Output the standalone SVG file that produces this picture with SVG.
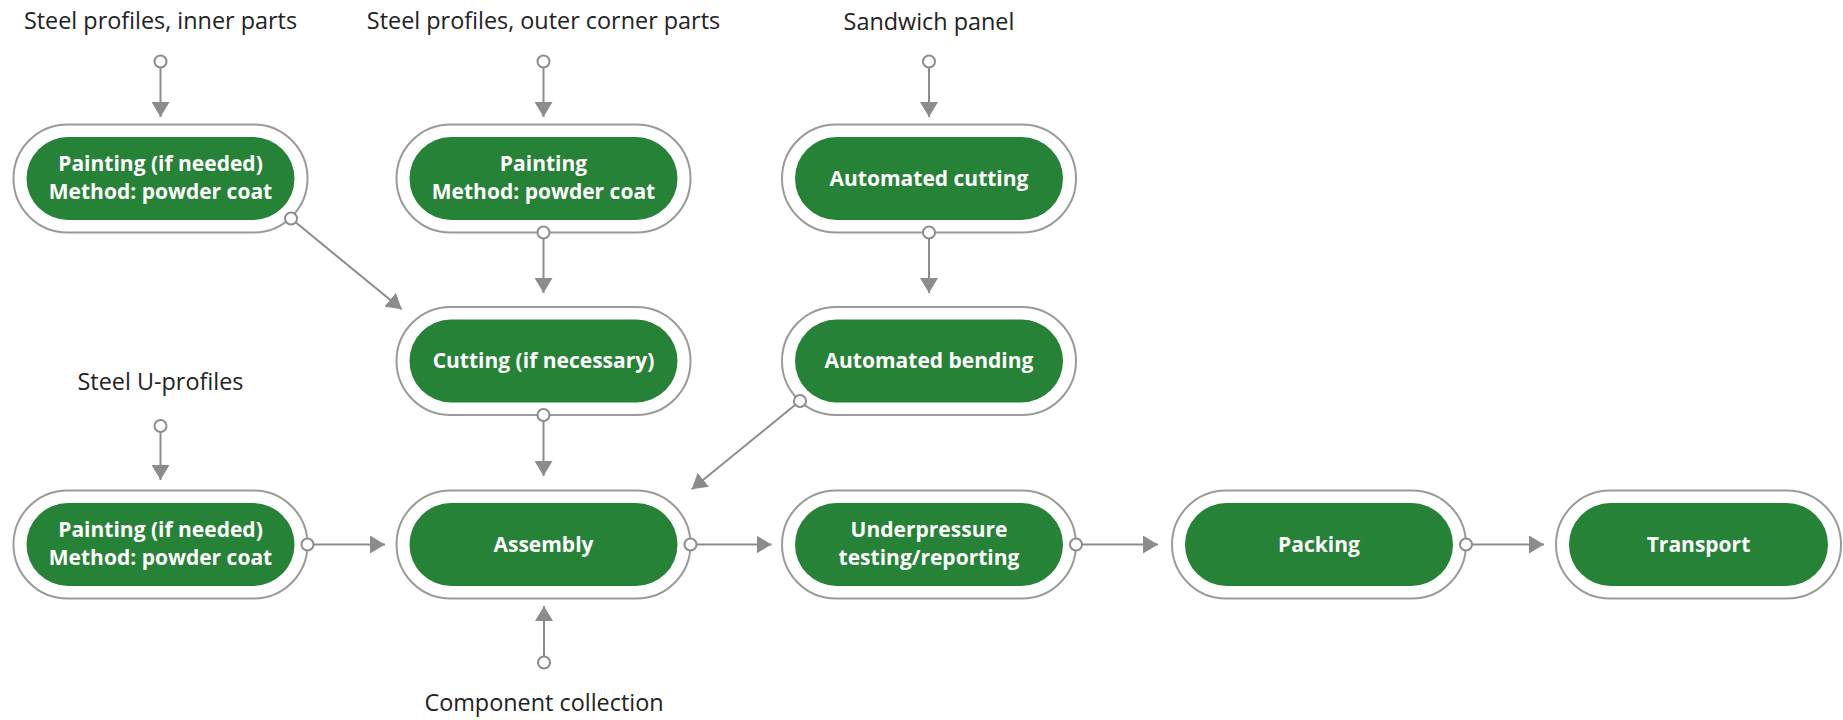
<svg xmlns="http://www.w3.org/2000/svg" width="1843" height="720" viewBox="0 0 1843 720">
<style>
.outer{fill:#ffffff;stroke:#9a9a9a;stroke-width:2}
.inner{fill:#268236}
.nt{font-family:"Open Sans","Noto Sans",sans-serif;font-weight:700;font-size:21px;fill:#ffffff;text-anchor:middle}
.lbl{font-family:"Open Sans","Noto Sans",sans-serif;font-weight:400;font-size:23.4px;fill:#222222;text-anchor:middle}
.ln{stroke:#8c8c8c;stroke-width:2;fill:none;marker-end:url(#ah)}
.port{fill:#ffffff;stroke:#8c8c8c;stroke-width:2}
</style>
<defs>
<marker id="ah" markerUnits="userSpaceOnUse" markerWidth="15" markerHeight="18" refX="15" refY="9" orient="auto" viewBox="0 0 15 18">
<path d="M0,0 L15,9 L0,18 z" fill="#8c8c8c"/>
</marker>
</defs>
<rect width="1843" height="720" fill="#ffffff"/>

<g id="labels">
<text class="lbl" x="160.5" y="29">Steel profiles, inner parts</text>
<text class="lbl" x="543.5" y="29">Steel profiles, outer corner parts</text>
<text class="lbl" x="929" y="29.5">Sandwich panel</text>
<text class="lbl" x="160.5" y="389.5">Steel U-profiles</text>
<text class="lbl" x="544" y="711">Component collection</text>
</g>

<g id="node-painting-inner">
<rect class="outer" x="13.5" y="124.5" width="294" height="108" rx="54"/>
<rect class="inner" x="26.5" y="137" width="268" height="83" rx="41.5"/>
<text class="nt" x="160.5" y="170.5">Painting (if needed)</text>
<text class="nt" x="160.5" y="198.5">Method: powder coat</text>
</g>
<g id="node-painting-outer">
<rect class="outer" x="396.5" y="124.5" width="294" height="108" rx="54"/>
<rect class="inner" x="409.5" y="137" width="268" height="83" rx="41.5"/>
<text class="nt" x="543.5" y="170.5">Painting</text>
<text class="nt" x="543.5" y="198.5">Method: powder coat</text>
</g>
<g id="node-automated-cutting">
<rect class="outer" x="782" y="124.5" width="294" height="108" rx="54"/>
<rect class="inner" x="795" y="137" width="268" height="83" rx="41.5"/>
<text class="nt" x="929" y="185.5">Automated cutting</text>
</g>
<g id="node-cutting">
<rect class="outer" x="396.5" y="307" width="294" height="108" rx="54"/>
<rect class="inner" x="409.5" y="319.5" width="268" height="83" rx="41.5"/>
<text class="nt" x="543.5" y="368">Cutting (if necessary)</text>
</g>
<g id="node-automated-bending">
<rect class="outer" x="782" y="307" width="294" height="108" rx="54"/>
<rect class="inner" x="795" y="319.5" width="268" height="83" rx="41.5"/>
<text class="nt" x="929" y="368">Automated bending</text>
</g>
<g id="node-painting-u">
<rect class="outer" x="13.5" y="490.5" width="294" height="108" rx="54"/>
<rect class="inner" x="26.5" y="503" width="268" height="83" rx="41.5"/>
<text class="nt" x="160.5" y="536.5">Painting (if needed)</text>
<text class="nt" x="160.5" y="564.5">Method: powder coat</text>
</g>
<g id="node-assembly">
<rect class="outer" x="396.5" y="490.5" width="294" height="108" rx="54"/>
<rect class="inner" x="409.5" y="503" width="268" height="83" rx="41.5"/>
<text class="nt" x="543.5" y="551.5">Assembly</text>
</g>
<g id="node-underpressure">
<rect class="outer" x="782" y="490.5" width="294" height="108" rx="54"/>
<rect class="inner" x="795" y="503" width="268" height="83" rx="41.5"/>
<text class="nt" x="929" y="536.5">Underpressure</text>
<text class="nt" x="929" y="564.5">testing/reporting</text>
</g>
<g id="node-packing">
<rect class="outer" x="1172" y="490.5" width="294" height="108" rx="54"/>
<rect class="inner" x="1185" y="503" width="268" height="83" rx="41.5"/>
<text class="nt" x="1319" y="551.5">Packing</text>
</g>
<g id="node-transport">
<rect class="outer" x="1556" y="490.5" width="285" height="108" rx="54"/>
<rect class="inner" x="1569" y="503" width="259" height="83" rx="41.5"/>
<text class="nt" x="1698.5" y="551.5">Transport</text>
</g>

<g id="connectors">
<line class="ln" x1="160.5" y1="67.5" x2="160.5" y2="117"/>
<circle class="port" cx="160.5" cy="61.5" r="6"/>
<line class="ln" x1="543.5" y1="67.5" x2="543.5" y2="117"/>
<circle class="port" cx="543.5" cy="61.5" r="6"/>
<line class="ln" x1="929" y1="67.5" x2="929" y2="117"/>
<circle class="port" cx="929" cy="61.5" r="6"/>
<line class="ln" x1="295.6" y1="222.3" x2="401.7" y2="309.3"/>
<circle class="port" cx="291" cy="218.5" r="6"/>
<line class="ln" x1="543.5" y1="238.5" x2="543.5" y2="293"/>
<circle class="port" cx="543.5" cy="232.5" r="6"/>
<line class="ln" x1="929" y1="238.5" x2="929" y2="293"/>
<circle class="port" cx="929" cy="232.5" r="6"/>
<line class="ln" x1="543.5" y1="421" x2="543.5" y2="476"/>
<circle class="port" cx="543.5" cy="415" r="6"/>
<line class="ln" x1="795.3" y1="404.8" x2="691.7" y2="489.3"/>
<circle class="port" cx="800" cy="401" r="6"/>
<line class="ln" x1="160.5" y1="432" x2="160.5" y2="480"/>
<circle class="port" cx="160.5" cy="426" r="6"/>
<line class="ln" x1="313.5" y1="544.5" x2="385" y2="544.5"/>
<circle class="port" cx="307.5" cy="544.5" r="6"/>
<line class="ln" x1="696.5" y1="544.5" x2="771.5" y2="544.5"/>
<circle class="port" cx="690.5" cy="544.5" r="6"/>
<line class="ln" x1="1082" y1="544.5" x2="1158" y2="544.5"/>
<circle class="port" cx="1076" cy="544.5" r="6"/>
<line class="ln" x1="1472" y1="544.5" x2="1544" y2="544.5"/>
<circle class="port" cx="1466" cy="544.5" r="6"/>
<line class="ln" x1="544" y1="656.5" x2="544" y2="606"/>
<circle class="port" cx="544" cy="662.5" r="6"/>
</g>
</svg>
